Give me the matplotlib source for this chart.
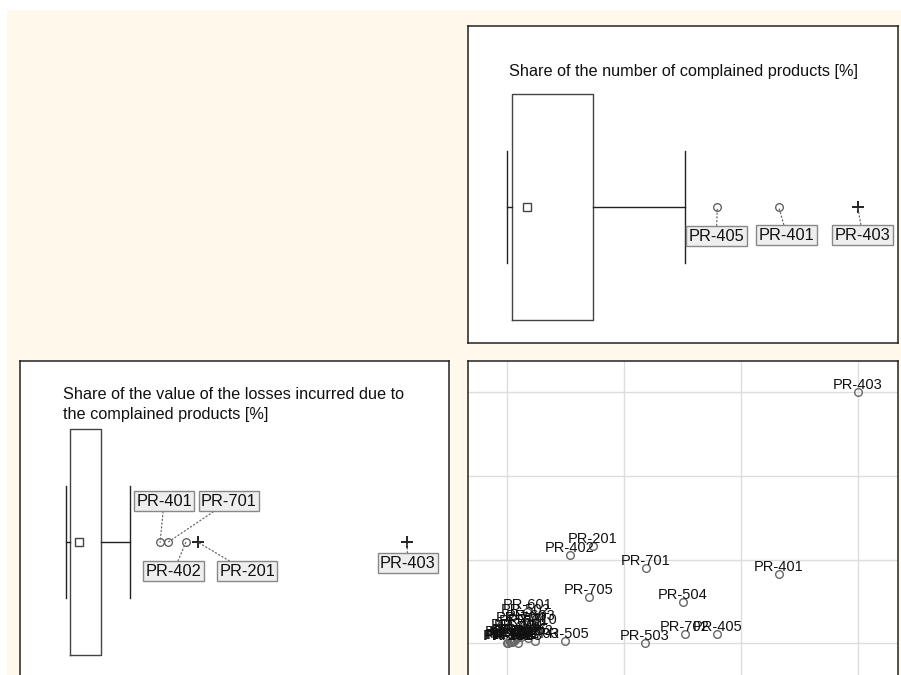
import matplotlib
matplotlib.use("Agg")
import matplotlib.pyplot as plt

plt.rcParams['font.family'] = ['Liberation Sans', 'DejaVu Sans']

# ---------------- data ----------------
products = ["PR-403", "PR-401", "PR-405", "PR-702", "PR-504", "PR-701", "PR-503",
            "PR-201", "PR-705", "PR-402", "PR-505",
            "PR-101", "PR-102", "PR-103", "PR-104", "PR-202", "PR-203", "PR-301",
            "PR-302", "PR-303", "PR-404", "PR-406", "PR-501", "PR-502", "PR-601",
            "PR-602", "PR-603", "PR-703", "PR-704", "PR-706", "PR-710", "PR-801"]
count_share = [15.0, 11.62, 8.99, 7.59, 7.52, 5.92, 5.89,
               3.67, 3.50, 2.67, 2.47,
               0.00, 0.05, 0.10, 0.15, 0.20, 0.25, 0.30,
               0.40, 0.46, 0.50, 0.60, 0.70, 0.80, 0.86,
               0.90, 1.00, 1.17, 0.55, 0.35, 1.10, 0.12]
loss_share = [15.0, 4.14, 0.56, 0.54, 2.45, 4.48, 0.02,
              5.81, 2.78, 5.27, 0.14,
              0.00, 0.02, 0.05, 0.10, 0.08, 0.20, 0.15,
              0.30, 0.04, 0.60, 0.40, 0.90, 1.60, 1.90,
              0.33, 1.20, 0.14, 1.10, 0.70, 1.00, 0.25]

# box statistics: [whislo, q1, median, q3, whishi]
count_box = [0.0, 0.21, 0.84, 3.66, 7.59]
loss_box = [0.0, 0.19, 0.585, 1.54, 2.82]

count_outliers = ["PR-405", "PR-401"]
count_extremes = ["PR-403"]
loss_outliers = ["PR-401", "PR-701", "PR-402"]
loss_extremes = ["PR-201", "PR-403"]

title_count = "Share of the number of complained products [%]"
title_loss = "Share of the value of the losses incurred due to\nthe complained products [%]"

grid_ticks = [0, 5, 10, 15]

# label offsets (pixels) for the boxplot labels
count_label_off = {"PR-405": (-1, -29), "PR-401": (8, -28), "PR-403": (5, -28)}
loss_label_off = {"PR-401": (4, 41), "PR-701": (61, 41), "PR-402": (-12, -29),
                  "PR-201": (49, -29), "PR-403": (1, -21)}

# ---------------- figure ----------------
W, H = 901, 675
fig = plt.figure(figsize=(W / 100, H / 100), dpi=100, facecolor="white")
bg = fig.add_axes([7 / W, 0, 1 - 7 / W, (H - 10) / H], zorder=-5)
bg.set_facecolor("#FFF9EC")
bg.set_xticks([])
bg.set_yticks([])
for s in bg.spines.values():
    s.set_visible(False)


def px_axes(left, top, right, bottom):
    return fig.add_axes([left / W, (H - bottom) / H, (right - left) / W, (bottom - top) / H])


ax1 = px_axes(468, 26, 898, 343)   # count boxplot
ax2 = px_axes(20, 361, 449, 678)   # loss boxplot
ax3 = px_axes(468, 361, 898, 678)  # scatter

for ax in (ax1, ax2, ax3):
    ax.set_facecolor("white")
    for s in ax.spines.values():
        s.set_color("#222222")
        s.set_linewidth(1.1)

idx = {p: i for i, p in enumerate(products)}


def draw_box(ax, box, values, outs, exts, offs, ypos, title, tx, ty, xl):
    stats = [dict(whislo=box[0], q1=box[1], med=box[2], q3=box[3], whishi=box[4], fliers=[])]
    ax.bxp(stats, positions=[ypos], widths=0.713, orientation='horizontal',
           capwidths=0.353, showfliers=False,
           boxprops=dict(color="#444444", linewidth=1.0),
           whiskerprops=dict(color="#222222", linewidth=1.0),
           capprops=dict(color="#222222", linewidth=1.0),
           medianprops=dict(linewidth=0))
    ax.plot([box[2]], [ypos], marker="s", ms=5.5, mfc="white", mec="#444444", mew=1.0, ls="none")
    for name in outs + exts:
        v = values[idx[name]]
        if name in outs:
            ax.plot([v], [ypos], marker="o", ms=5.5, mfc="none", mec="#555555", mew=0.9, ls="none")
        else:
            ax.plot([v], [ypos], marker="+", ms=8, color="#222222", mew=1.4, ls="none")
        dx, dy = offs[name]
        ax.annotate(name, xy=(v, ypos), xytext=(dx, dy), textcoords="offset pixels",
                    ha="center", va="center", fontsize=11.8, color="#111111",
                    bbox=dict(boxstyle="square,pad=0.15", fc="#EEEEEE", ec="#888888", lw=1.0),
                    arrowprops=dict(arrowstyle="-", linestyle=(0, (1, 2)), color="#666666",
                                    lw=0.9, shrinkA=0, shrinkB=0))
    ax.set_xlim(*xl)
    ax.set_ylim(0, 1)
    ax.set_xticks([])
    ax.set_yticks([])
    ax.text(tx, ty, title, transform=ax.transAxes, ha="left", va="top",
            fontsize=11.7, color="#111111", linespacing=1.38)


draw_box(ax1, count_box, count_share, count_outliers, count_extremes, count_label_off,
         0.429, title_count, 0.0947, 0.88, (-1.682, 16.725))
draw_box(ax2, loss_box, loss_share, loss_outliers, loss_extremes, loss_label_off,
         0.428, title_loss, 0.101, 0.917, (-2.024, 16.85))

# scatter
ax3.set_xlim(-1.682, 16.725)
ax3.set_ylim(-2.07, 16.86)
ax3.set_xticks(grid_ticks)
ax3.set_yticks(grid_ticks)
ax3.tick_params(length=0, labelbottom=False, labelleft=False)
ax3.grid(True, color="#DDDDDD", linewidth=1.0)
ax3.set_axisbelow(True)
ax3.plot(count_share, loss_share, ls="none", marker="o", ms=5.5, mfc="none",
         mec="#666666", mew=1.0)
for name, x, y in zip(products, count_share, loss_share):
    ax3.annotate(name, xy=(x, y), xytext=(0, 3), textcoords="offset pixels",
                 ha="center", va="baseline", fontsize=10.5, color="#111111")

fig.savefig("out.png", dpi=100, facecolor="white")
